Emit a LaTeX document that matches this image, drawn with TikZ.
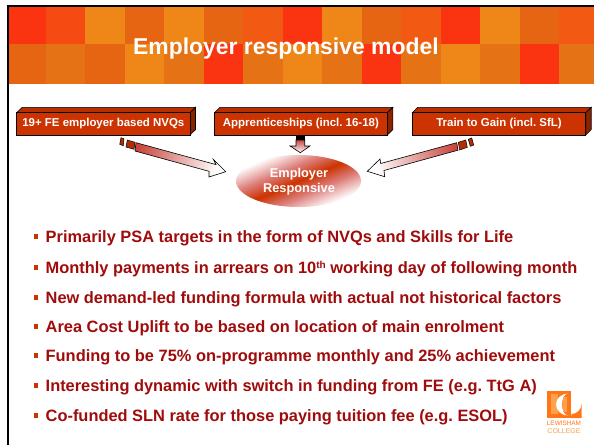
\documentclass[tikz,border=0pt]{standalone}
\usepackage{fontspec}
\setmainfont{Liberation Sans}
\usetikzlibrary{shapes.geometric}
\definecolor{cRed}{HTML}{FA3410}
\definecolor{cRedB}{HTML}{F54A12}
\definecolor{cAmb}{HTML}{EE8618}
\definecolor{cOrg}{HTML}{E66512}
\definecolor{cOrgB}{HTML}{E67216}
\definecolor{cVer}{HTML}{F25A14}
\definecolor{boxRed}{HTML}{CC3300}
\definecolor{boxTop}{HTML}{B82E00}
\definecolor{boxSide}{HTML}{8A2300}
\definecolor{bodyRed}{HTML}{A00C0C}
\definecolor{logoO}{HTML}{FF7518}
\definecolor{logoL}{HTML}{FBA34C}
\definecolor{midPink}{HTML}{DC7C78}
\definecolor{tailRed}{HTML}{C8483F}
\pgfdeclareverticalshading{ellshade}{100bp}{color(0bp)=(white);color(27bp)=(white);color(40bp)=(midPink);color(50bp)=(boxRed);color(60bp)=(midPink);color(73bp)=(white);color(100bp)=(white)}
\pgfdeclarehorizontalshading{arrowtoright}{100bp}{color(0bp)=(tailRed);color(22bp)=(tailRed);color(74bp)=(white);color(100bp)=(white)}
\pgfdeclarehorizontalshading{arrowtoleft}{100bp}{color(0bp)=(white);color(26bp)=(white);color(78bp)=(tailRed);color(100bp)=(tailRed)}
\tikzset{
  x=1pt,y=-1pt,
  frameline/.style={line width=2pt,black},
  boxfront/.style={draw=black,line width=0.6pt,fill=boxRed,text=white,font=\fontsize{11.45}{13}\selectfont\bfseries,inner sep=0pt,minimum height=22.5pt},
  boxtopface/.style={draw=black,line width=0.6pt,fill=boxTop},
  boxsideface/.style={draw=black,line width=0.6pt,fill=boxSide},
  blockarrow/.style={draw=black,line width=0.6pt},
  piece/.style={draw=black,line width=0.5pt,fill=#1},
  bodytext/.style={anchor=base west,inner sep=0pt,text=bodyRed,font=\fontsize{16.4}{18}\selectfont\bfseries},
  bulletmark/.style={fill=boxRed,inner sep=0pt,minimum width=4.2pt,minimum height=4.8pt},
  ellipsetext/.style={anchor=base,inner sep=0pt,text=white,font=\fontsize{12.8}{14}\selectfont\bfseries},
}
\frenchspacing
\begin{document}
\begin{tikzpicture}
\useasboundingbox (0,0) rectangle (594,445);
\fill[white] (0,0) rectangle (594,445);
% banner
\foreach \xa/\xb/\col in {9/45.5/cRed,45.5/85/cRedB,85/124.5/cAmb,124.5/164/cOrg,164/203.7/cAmb,203.7/243/cOrg,243/282.7/cVer,282.7/322/cRed,322/361.5/cAmb,361.5/401/cOrg,401/440.7/cVer,440.7/480/cRed,480/519.7/cAmb,519.7/559/cOrg,559/594/cVer}{
  \fill[\col] (\xa,7) rectangle (\xb,44);}
\foreach \xa/\xb/\col in {9/45.5/cOrg,45.5/85/cOrgB,85/124.5/cOrg,124.5/164/cAmb,164/203.7/cOrgB,203.7/243/cRed,243/282.7/cOrgB,282.7/322/cAmb,322/361.5/cOrgB,361.5/401/cRed,401/440.7/cOrgB,440.7/480/cAmb,480/519.7/cOrgB,519.7/559/cRed,559/594/cOrgB}{
  \fill[\col] (\xa,44) rectangle (\xb,83.5);}
\draw[frameline] (8,445) -- (8,6) -- (594,6);
\node[anchor=base west,inner sep=0pt,text=white,font=\fontsize{22.9}{26}\selectfont\bfseries] (title) at (133,54) {Employer responsive model};
% boxes
\foreach \nm/\xl/\xr/\txt in {a/16.7/190/19+ FE employer based NVQs,b/214.5/387.3/Apprenticeships (incl. 16-18),c/412.3/585.7/Train to Gain (incl. SfL)}{
  \path[boxtopface] (\xl,112.7) -- (\xl+5.5,107.3) -- (\xr+5.5,107.3) -- (\xr,112.7) -- cycle;
  \path[boxsideface] (\xr,112.7) -- (\xr+5.5,107.3) -- (\xr+5.5,129.6) -- (\xr,135) -- cycle;
  \pgfmathsetmacro{\boxw}{\xr-\xl}
  \node[boxfront,minimum width=\boxw pt] (\nm) at ({(\xl+\xr)/2},123.85) {\txt};
}
% left arrow
\path[blockarrow,shading=arrowtoright,shading angle=-15]
  (136,142.7) -- (216,164.6) -- (213.3,159.3) -- (225.7,171.7) -- (209,177) -- (209,171.3) -- (135,151) -- cycle;
\path[piece=boxRed!88!black] (127.3,140) -- (135,142.3) -- (134,149.3) -- (126,147) -- cycle;
\path[piece=boxRed!88!black] (121,137.7) -- (124,138.7) -- (123.3,145.7) -- (119.7,144.3) -- cycle;
% right arrow
\path[blockarrow,shading=arrowtoleft,shading angle=15]
  (456.7,142.7) -- (380.7,163.5) -- (380,159) -- (367.3,171.3) -- (384.7,176.7) -- (384,170.5) -- (458,150.2) -- cycle;
\path[piece=boxRed!88!black] (458.3,142.3) -- (465.7,140) -- (467.3,147.3) -- (459.7,150) -- cycle;
\path[piece=boxRed!88!black] (468.3,139.3) -- (471.7,138) -- (473.7,145) -- (470.3,146.3) -- cycle;
% down arrow
\fill[black] (296,135) rectangle (304.7,139.5);
\path[blockarrow,top color=tailRed,bottom color=white]
  (296,140) -- (304.7,140) -- (304.7,146) -- (310,146) -- (300.3,152.7) -- (290,146) -- (296,146) -- cycle;
% ellipse
\path[shading=ellshade,shading angle=23] (298.5,181) ellipse [x radius=62.5,y radius=26];
\node[ellipsetext] (emp) at (299,177) {Employer};
\node[ellipsetext] (resp) at (299,192.7) {Responsive};
% bullets
\foreach \nm/\yy/\txt in {
 p1/242/Primarily PSA targets in the form of NVQs and Skills for Life,
 p2/273/{Monthly payments in arrears on 10\raisebox{4.5pt}{\fontsize{10}{11}\selectfont th} working day of following month},
 p3/303/New demand-led funding formula with actual not historical factors,
 p4/332/Area Cost Uplift to be based on location of main enrolment,
 p5/361/Funding to be 75\% on-programme monthly and 25\% achievement,
 p6/391/Interesting dynamic with switch in funding from FE (e.g. TtG A),
 p7/421/Co-funded SLN rate for those paying tuition fee (e.g. ESOL)}{
  \node[bulletmark] (m\nm) at (36,\yy-5.5) {};
  \node[bodytext] (\nm) at (45.5,\yy) {\txt};
}
% logo
\fill[logoO] (547,390.5) rectangle (571,418);
\fill[logoL] (551,394) rectangle (558,414);
\fill[white] (568,393.5) arc[start angle=-90,end angle=-270,x radius=12,y radius=11] arc[start angle=90,end angle=270,x radius=6,y radius=11] -- cycle;
\fill[logoL] (563,397) rectangle (567,412);
\fill[logoO] (571,418) -- (581.5,418) -- (581.5,404) arc[start angle=0,end angle=90,radius=10] -- cycle;
\node[anchor=base,inner sep=0pt,text=logoO,font=\fontsize{6.4}{7}\selectfont] (lw) at (564,425.5) {LEWISHAM};
\node[anchor=base,inner sep=0pt,text=logoL,font=\fontsize{7}{7}\selectfont] (cg) at (564,433) {COLLEGE};
\end{tikzpicture}
\end{document}
